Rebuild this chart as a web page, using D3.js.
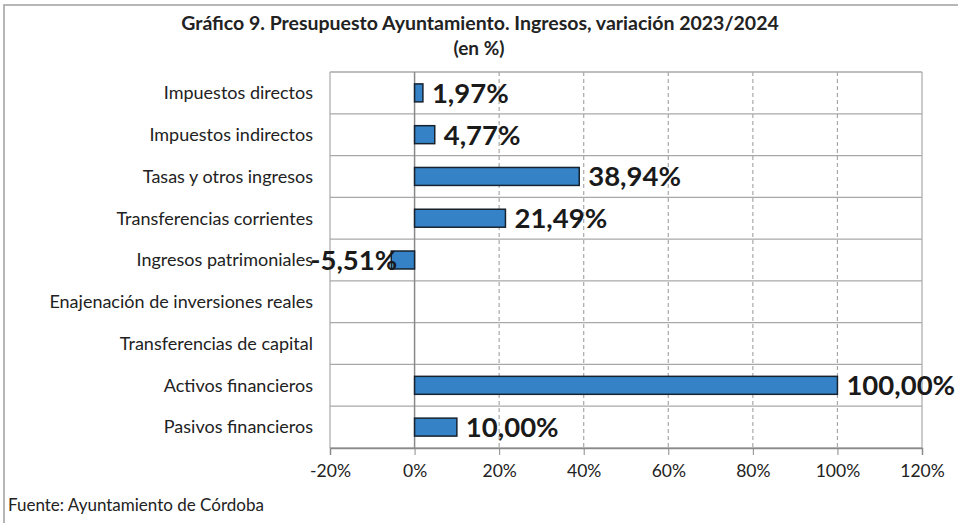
<!DOCTYPE html>
<html>
<head>
<meta charset="utf-8">
<script src="https://cdn.jsdelivr.net/npm/d3@7"></script>
<style>
  body { margin: 0; background: #fff; }
  svg { display: block; font-family: Lato, "Open Sans", sans-serif; }
</style>
</head>
<body>
<svg id="chart" width="958" height="523"></svg>
<script>
// ingresos, variacion 2023/2024
const categories = [
  'Impuestos directos',
  'Impuestos indirectos',
  'Tasas y otros ingresos',
  'Transferencias corrientes',
  'Ingresos patrimoniales',
  'Enajenación de inversiones reales',
  'Transferencias de capital',
  'Activos financieros',
  'Pasivos financieros'
];
const values = [1.97, 4.77, 38.94, 21.49, -5.51, null, null, 100.00, 10.00];
const xTicks = [-20, 0, 20, 40, 60, 80, 100, 120];

const W = 958, H = 523;
const margin = { top: 72, right: 36, bottom: 75, left: 330 };
const innerW = W - margin.left - margin.right;
const innerH = H - margin.top - margin.bottom;

const svg = d3.select('#chart');

const es = d3.formatLocale({ decimal: ',', thousands: '.', grouping: [3], currency: ['', ' €'], minus: '-' });
const fmtVal = es.format('.2f');

// outer frame
svg.append('path')
  .attr('d', `M4,${H} L4,5 L${W},5`)
  .attr('fill', 'none')
  .attr('stroke', '#a0a0a0')
  .attr('stroke-width', 1.5);

svg.append('text')
  .attr('x', 480).attr('y', 30)
  .attr('text-anchor', 'middle')
  .attr('font-weight', 'bold')
  .attr('font-size', 19.5)
  .attr('fill', '#222')
  .text('Gráfico 9. Presupuesto Ayuntamiento. Ingresos, variación 2023/2024');
svg.append('text')
  .attr('x', 479).attr('y', 55)
  .attr('text-anchor', 'middle')
  .attr('font-weight', 'bold')
  .attr('font-size', 19)
  .attr('fill', '#222')
  .text('(en %)');

const g = svg.append('g')
  .attr('transform', 'translate(' + margin.left + ',' + margin.top + ')');

const x = d3.scaleLinear().domain([-20, 120]).range([0, innerW]);
const y = d3.scaleBand().domain(categories).range([0, innerH]).paddingInner(0).paddingOuter(0);

// horizontal grid (row borders)
g.selectAll('.hgrid')
  .data(d3.range(categories.length + 1))
  .enter().append('line')
  .attr('x1', 0).attr('x2', innerW)
  .attr('y1', i => i * y.step()).attr('y2', i => i * y.step())
  .attr('stroke', '#a8a8a8')
  .attr('stroke-width', 1.3);

// vertical grid
g.selectAll('.vgrid')
  .data(xTicks)
  .enter().append('line')
  .attr('x1', d => x(d)).attr('x2', d => x(d))
  .attr('y1', 0).attr('y2', innerH)
  .attr('stroke', d => (d === 0 ? '#8a8a8a' : '#a8a8a8'))
  .attr('stroke-width', d => (d === 0 ? 1.5 : 1.2))
  .attr('stroke-dasharray', d => (d === -20 || d === 0 || d === 120) ? null : '4,3');

// bottom axis
const axis = g.append('g')
  .attr('transform', 'translate(0,' + innerH + ')')
  .call(d3.axisBottom(x).tickValues(xTicks).tickSize(7).tickPadding(10)
    .tickFormat(d => d + '%'));
axis.select('.domain').attr('stroke', '#8a8a8a').attr('stroke-width', 1.5);
axis.selectAll('.tick line').attr('stroke', '#8a8a8a');
axis.selectAll('.tick text')
  .attr('font-size', 17.5)
  .attr('fill', '#222')
  .attr('font-family', 'Lato, sans-serif');

// category labels
g.selectAll('.cat')
  .data(categories)
  .enter().append('text')
  .attr('x', -17)
  .attr('y', d => y(d) + y.bandwidth() / 2)
  .attr('dy', '0.35em')
  .attr('text-anchor', 'end')
  .attr('font-size', 18)
  .attr('fill', '#222')
  .text(d => d);

const rows = categories.map((c, i) => ({ cat: c, value: values[i] }))
  .filter(d => d.value !== null);
const barH = y.bandwidth() * 0.43;

g.selectAll('.bar')
  .data(rows)
  .enter().append('rect')
  .attr('x', d => x(Math.min(0, d.value)))
  .attr('y', d => y(d.cat) + (y.bandwidth() - barH) / 2)
  .attr('width', d => Math.abs(x(d.value) - x(0)))
  .attr('height', barH)
  .attr('fill', '#3583c6')
  .attr('stroke', '#17222e')
  .attr('stroke-width', 1.5);

g.selectAll('.val')
  .data(rows)
  .enter().append('text')
  .attr('x', d => d.value < 0 ? x(d.value) + 6 : x(d.value) + 9)
  .attr('y', d => y(d.cat) + y.bandwidth() / 2)
  .attr('dy', '0.36em')
  .attr('text-anchor', d => d.value < 0 ? 'end' : 'start')
  .attr('font-size', 27.5)
  .attr('font-weight', 'bold')
  .attr('fill', '#1a1a1a')
  .text(d => fmtVal(d.value) + '%');

svg.append('text')
  .attr('x', 8).attr('y', 511)
  .attr('font-size', 17)
  .attr('fill', '#222')
  .text('Fuente: Ayuntamiento de Córdoba');
</script>
</body>
</html>
